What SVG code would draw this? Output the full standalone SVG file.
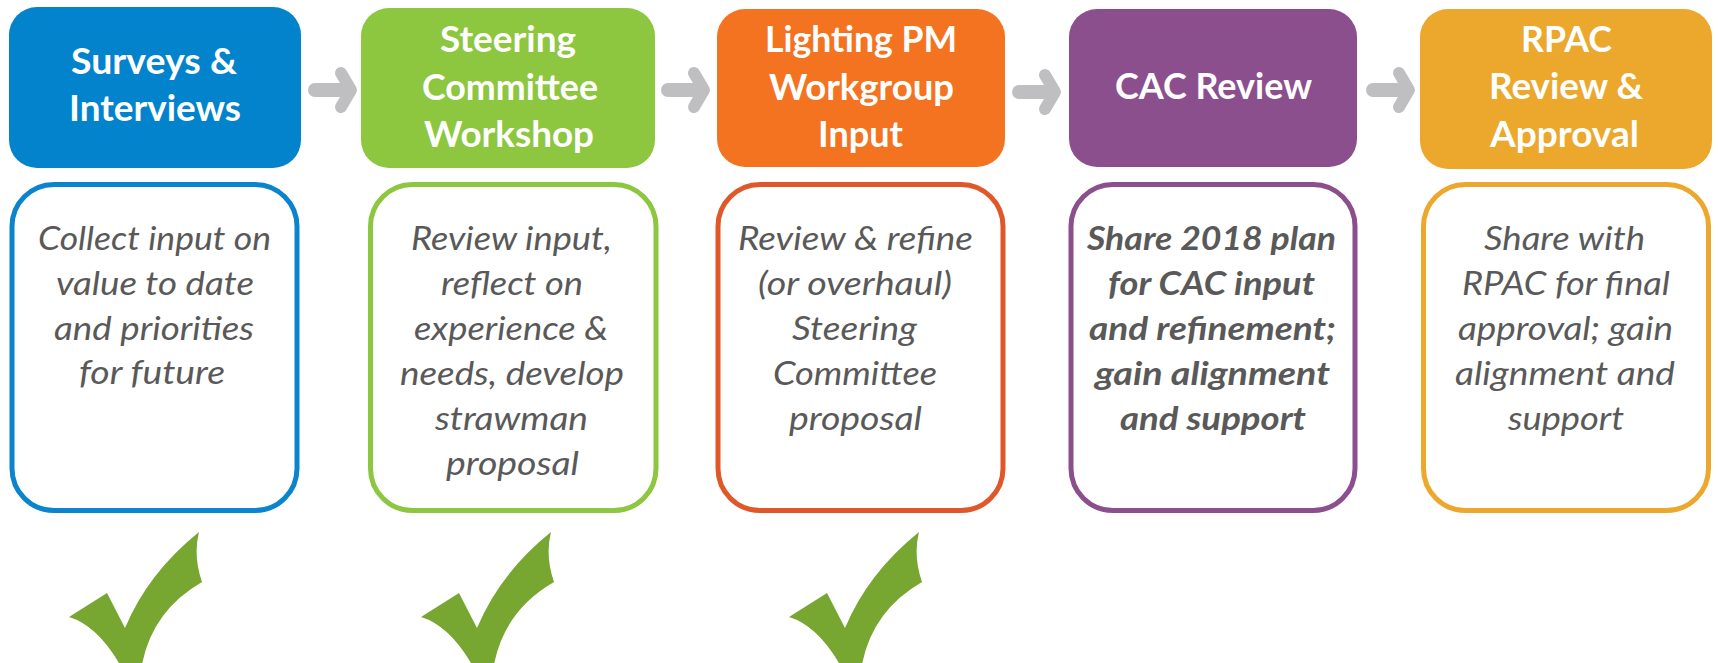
<svg xmlns="http://www.w3.org/2000/svg" width="1718" height="663" viewBox="0 0 1718 663">
  <style>
    .head text { font-family: Lato, "Liberation Sans", sans-serif; font-weight: 700; font-size: 37px; fill: #ffffff; }
    .desc rect { fill: #ffffff; stroke-width: 5; }
    .desc text { font-family: Lato, "Liberation Sans", sans-serif; font-style: italic; font-size: 32px; fill: #595959; }
    .desc text.strong { font-weight: 700; }
    .arrow line { stroke: #bfbfc1; stroke-width: 14; stroke-linecap: round; }
    .arrow polyline { fill: none; stroke: #bfbfc1; stroke-width: 12; stroke-linecap: round; stroke-linejoin: round; }
    .check { fill: #77a631; }
  </style>
  <defs>
    <!-- tick shape, placed under the finished steps -->
    <path id="tick" d="M199,532 Q148,573 125,628 L107,593 L69,617 Q99,626 123,670 L141,670 Q150,612 202,582 Q193,556 199,532 Z"/>
  </defs>

  <rect width="1718" height="663" fill="#ffffff"/>

  <!-- connectors between the step headers -->
  <g id="connectors">
    <g class="arrow" transform="translate(308,0)">
      <line x1="7" y1="90" x2="40" y2="90"/>
      <polyline points="33,73 43,90 33,107"/>
    </g>
    <g class="arrow" transform="translate(661,0)">
      <line x1="7" y1="90" x2="40" y2="90"/>
      <polyline points="33,73 43,90 33,107"/>
    </g>
    <g class="arrow" transform="translate(1012,2)">
      <line x1="7" y1="90" x2="40" y2="90"/>
      <polyline points="33,73 43,90 33,107"/>
    </g>
    <g class="arrow" transform="translate(1366,0)">
      <line x1="7" y1="90" x2="40" y2="90"/>
      <polyline points="33,73 43,90 33,107"/>
    </g>
  </g>

  <!-- step headers -->
  <g id="head-surveys" class="head">
    <rect x="9" y="7" width="292" height="161" rx="28" fill="#0283cc"/>
    <text x="71" y="74" textLength="166" lengthAdjust="spacingAndGlyphs">Surveys &amp;</text>
    <text x="69" y="121" textLength="172" lengthAdjust="spacingAndGlyphs">Interviews</text>
  </g>
  <g id="head-steering" class="head">
    <rect x="361" y="8" width="294" height="160" rx="28" fill="#8dc63f"/>
    <text x="440" y="52" textLength="136" lengthAdjust="spacingAndGlyphs">Steering</text>
    <text x="422" y="100" textLength="176" lengthAdjust="spacingAndGlyphs">Committee</text>
    <text x="424" y="147" textLength="170" lengthAdjust="spacingAndGlyphs">Workshop</text>
  </g>
  <g id="head-lighting" class="head">
    <rect x="717" y="9" width="288" height="158" rx="28" fill="#f37321"/>
    <text x="765" y="52" textLength="192" lengthAdjust="spacingAndGlyphs">Lighting PM</text>
    <text x="769" y="100" textLength="185" lengthAdjust="spacingAndGlyphs">Workgroup</text>
    <text x="818" y="147" textLength="85" lengthAdjust="spacingAndGlyphs">Input</text>
  </g>
  <g id="head-cac" class="head">
    <rect x="1069" y="9" width="288" height="158" rx="28" fill="#8c4f8d"/>
    <text x="1115" y="99" textLength="197" lengthAdjust="spacingAndGlyphs">CAC Review</text>
  </g>
  <g id="head-rpac" class="head">
    <rect x="1420" y="9" width="292" height="160" rx="28" fill="#eba82d"/>
    <text x="1521" y="52" textLength="91" lengthAdjust="spacingAndGlyphs">RPAC</text>
    <text x="1489" y="99" textLength="154" lengthAdjust="spacingAndGlyphs">Review &amp;</text>
    <text x="1490" y="147" textLength="149" lengthAdjust="spacingAndGlyphs">Approval</text>
  </g>

  <!-- step descriptions -->
  <g id="desc-surveys" class="desc">
    <rect x="12" y="184.5" width="285" height="326" rx="42" stroke="#0a84cc"/>
    <text x="38" y="250" textLength="233" lengthAdjust="spacingAndGlyphs">Collect input on</text>
    <text x="56" y="295" textLength="198" lengthAdjust="spacingAndGlyphs">value to date</text>
    <text x="54" y="340" textLength="200" lengthAdjust="spacingAndGlyphs">and priorities</text>
    <text x="79" y="384" textLength="146" lengthAdjust="spacingAndGlyphs">for future</text>
  </g>
  <g id="desc-steering" class="desc">
    <rect x="370.5" y="184.5" width="285.5" height="326" rx="42" stroke="#8dc63f"/>
    <text x="411" y="250" textLength="201" lengthAdjust="spacingAndGlyphs">Review input,</text>
    <text x="441" y="295" textLength="142" lengthAdjust="spacingAndGlyphs">reflect on</text>
    <text x="414" y="340" textLength="194" lengthAdjust="spacingAndGlyphs">experience &amp;</text>
    <text x="400" y="385" textLength="224" lengthAdjust="spacingAndGlyphs">needs, develop</text>
    <text x="435" y="430" textLength="153" lengthAdjust="spacingAndGlyphs">strawman</text>
    <text x="446" y="475" textLength="133" lengthAdjust="spacingAndGlyphs">proposal</text>
  </g>
  <g id="desc-lighting" class="desc">
    <rect x="718" y="184.5" width="285" height="326" rx="42" stroke="#e0582a"/>
    <text x="738" y="250" textLength="235" lengthAdjust="spacingAndGlyphs">Review &amp; refine</text>
    <text x="758" y="295" textLength="194" lengthAdjust="spacingAndGlyphs">(or overhaul)</text>
    <text x="792" y="340" textLength="125" lengthAdjust="spacingAndGlyphs">Steering</text>
    <text x="773" y="385" textLength="164" lengthAdjust="spacingAndGlyphs">Committee</text>
    <text x="789" y="430" textLength="133" lengthAdjust="spacingAndGlyphs">proposal</text>
  </g>
  <g id="desc-cac" class="desc">
    <rect x="1071" y="184.5" width="284" height="326" rx="42" stroke="#8c4f8d"/>
    <text class="strong" x="1087" y="250" textLength="249" lengthAdjust="spacingAndGlyphs">Share 2018 plan</text>
    <text class="strong" x="1108" y="295" textLength="207" lengthAdjust="spacingAndGlyphs">for CAC input</text>
    <text class="strong" x="1089" y="340" textLength="247" lengthAdjust="spacingAndGlyphs">and refinement;</text>
    <text class="strong" x="1095" y="385" textLength="235" lengthAdjust="spacingAndGlyphs">gain alignment</text>
    <text class="strong" x="1120" y="430" textLength="186" lengthAdjust="spacingAndGlyphs">and support</text>
  </g>
  <g id="desc-rpac" class="desc">
    <rect x="1423.5" y="184.5" width="285" height="326" rx="42" stroke="#eba82d"/>
    <text x="1484" y="250" textLength="161" lengthAdjust="spacingAndGlyphs">Share with</text>
    <text x="1462" y="295" textLength="208" lengthAdjust="spacingAndGlyphs">RPAC for final</text>
    <text x="1458" y="340" textLength="215" lengthAdjust="spacingAndGlyphs">approval; gain</text>
    <text x="1455" y="385" textLength="220" lengthAdjust="spacingAndGlyphs">alignment and</text>
    <text x="1508" y="430" textLength="116" lengthAdjust="spacingAndGlyphs">support</text>
  </g>

  <!-- completed-step ticks -->
  <g id="ticks">
    <use href="#tick" class="check"/>
    <use href="#tick" class="check" transform="translate(352,0)"/>
    <use href="#tick" class="check" transform="translate(720,0)"/>
  </g>
</svg>
